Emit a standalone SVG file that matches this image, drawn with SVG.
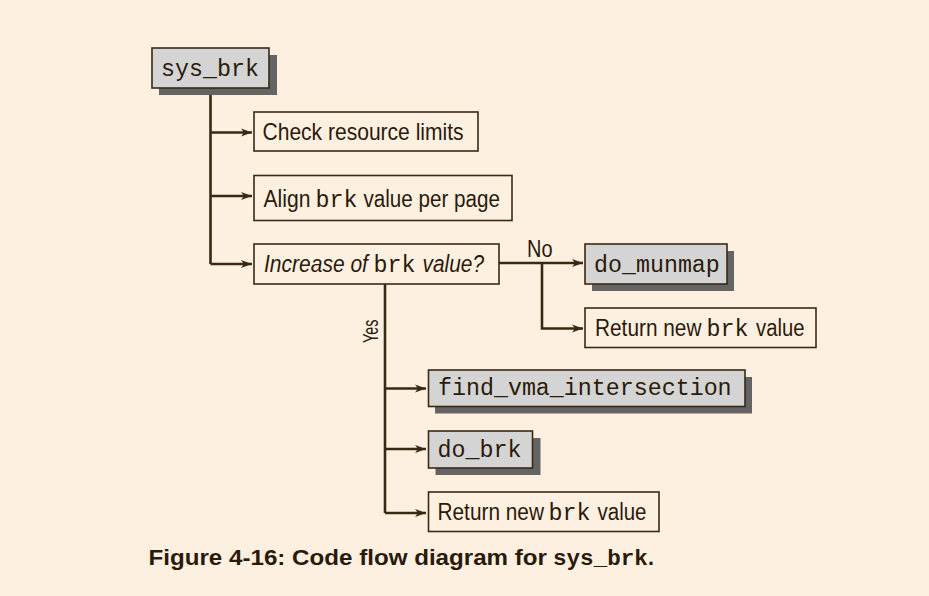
<svg xmlns="http://www.w3.org/2000/svg" width="929" height="596" viewBox="0 0 929 596">
<defs>
<marker id="ah" markerWidth="12" markerHeight="10" refX="11" refY="5" orient="auto" markerUnits="userSpaceOnUse">
<path d="M0,1 L11,5 L0,9 L3,5 Z" fill="#3a2812"/>
</marker>
<style>
.bg{fill:#fef0e1}
.box{fill:#fef0e1;stroke:#3a2812;stroke-width:1.6}
.gbox{fill:#d4d4d4;stroke:#3a2812;stroke-width:1.6}
.sh{fill:#646464}
.ln{fill:none;stroke:#3a2812;stroke-width:2.6}
.t{font-family:"Liberation Sans",Arial,sans-serif;font-size:24.5px;fill:#2a1a0a}
.i{font-style:italic}
.m{font-family:"Liberation Mono","Courier New",monospace;font-size:23.3px;fill:#2a1a0a}
.cap{font-family:"Liberation Sans",Arial,sans-serif;font-size:21.5px;font-weight:bold;fill:#2a1a0a}
.capm{font-family:"Liberation Mono","Courier New",monospace;font-size:22.6px;font-weight:bold;fill:#2a1a0a}
</style>
</defs>
<rect class="bg" x="0" y="0" width="929" height="596"/>
<g id="connectors">
<path class="ln" d="M210.5,88 V264"/>
<path class="ln" d="M210.5,132.5 H252" marker-end="url(#ah)"/>
<path class="ln" d="M210.5,196 H252" marker-end="url(#ah)"/>
<path class="ln" d="M210.5,264 H252" marker-end="url(#ah)"/>
<path class="ln" d="M499,263 H583" marker-end="url(#ah)"/>
<path class="ln" d="M542,263 V328.5 H583" marker-end="url(#ah)"/>
<path class="ln" d="M385,284 V513"/>
<path class="ln" d="M385,388.5 H426" marker-end="url(#ah)"/>
<path class="ln" d="M385,449 H426" marker-end="url(#ah)"/>
<path class="ln" d="M385,513 H426" marker-end="url(#ah)"/>
<text class="t" transform="translate(527,256.5) scale(0.815,1)">No</text>
<text class="t" style="font-size:22px" transform="translate(377.5,343) rotate(-90) scale(0.65,1)">Yes</text>
</g>
<g id="sys_brk">
<rect class="sh" x="159" y="55" width="118" height="40"/>
<rect class="gbox" x="152" y="48" width="117" height="40"/>
<text class="m" x="161" y="75.5">sys_brk</text>
</g>
<g id="check">
<rect class="box" x="254" y="112" width="224" height="39"/>
<text class="t" transform="translate(262.5,139.5) scale(0.859,1)">Check resource limits</text>
</g>
<g id="align">
<rect class="box" x="254" y="175.5" width="258" height="45"/>
<text class="t" transform="translate(263.5,206.5) scale(0.863,1)">Align</text>
<text class="m" x="315.5" y="206.5">brk</text>
<text class="t" transform="translate(363.5,206.5) scale(0.842,1)">value per page</text>
</g>
<g id="increase">
<rect class="box" x="254" y="244" width="245" height="40"/>
<text class="t i" transform="translate(264,271.5) scale(0.858,1)">Increase of</text>
<text class="m" x="373.5" y="271.5">brk</text>
<text class="t i" transform="translate(422.5,271.5) scale(0.852,1)">value?</text>
</g>
<g id="do_munmap">
<rect class="sh" x="592" y="251" width="142" height="40"/>
<rect class="gbox" x="585" y="244" width="142" height="40"/>
<text class="m" x="594" y="271.5">do_munmap</text>
</g>
<g id="return1">
<rect class="box" x="585" y="308" width="231" height="39.5"/>
<text class="t" transform="translate(595,336) scale(0.85,1)">Return new</text>
<text class="m" x="706.5" y="336">brk</text>
<text class="t" transform="translate(756,336) scale(0.828,1)">value</text>
</g>
<g id="find_vma">
<rect class="sh" x="435" y="377" width="317" height="36.5"/>
<rect class="gbox" x="428.5" y="370" width="316.5" height="36.5"/>
<text class="m" x="438" y="395">find_vma_intersection</text>
</g>
<g id="do_brk">
<rect class="sh" x="435.5" y="438" width="105" height="37"/>
<rect class="gbox" x="428.5" y="431" width="104" height="37"/>
<text class="m" x="437.5" y="456.5">do_brk</text>
</g>
<g id="return2">
<rect class="box" x="428.5" y="492" width="230.5" height="39.5"/>
<text class="t" transform="translate(437.5,520) scale(0.85,1)">Return new</text>
<text class="m" x="548.5" y="520">brk</text>
<text class="t" transform="translate(597.5,520) scale(0.836,1)">value</text>
</g>
<g id="caption">
<text class="cap" x="148.5" y="565" textLength="398.5" lengthAdjust="spacingAndGlyphs">Figure 4-16: Code flow diagram for</text>
<text class="capm" x="553" y="565">sys_brk</text>
<text class="cap" x="648" y="565">.</text>
</g>
</svg>
